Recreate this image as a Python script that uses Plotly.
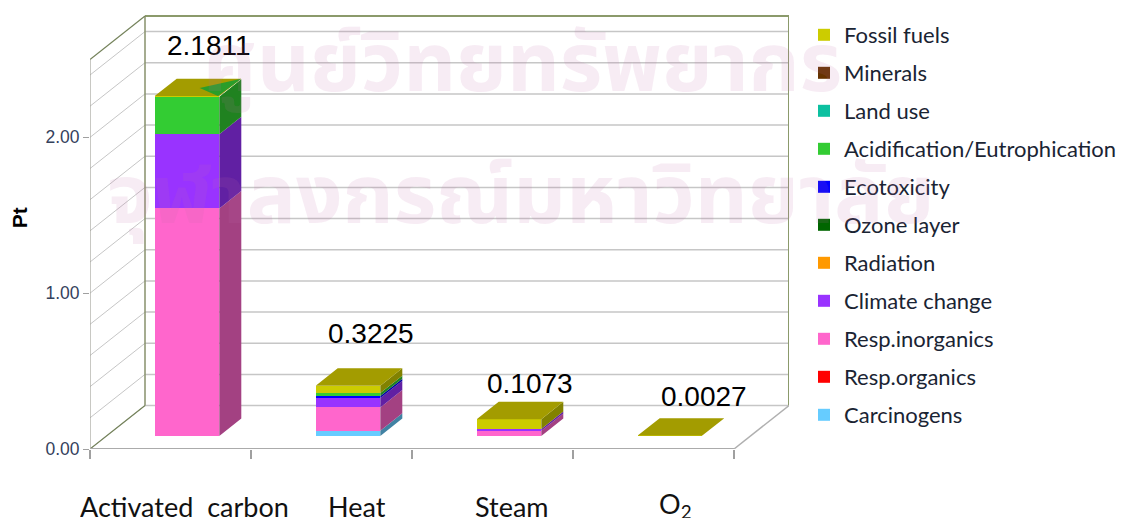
import plotly.graph_objects as go

categories = ["Activated  carbon", "Heat", "Steam", "O<sub>2</sub>"]
totals = [2.1811, 0.3225, 0.1073, 0.0027]
total_labels = ["2.1811", "0.3225", "0.1073", "0.0027"]

carcinogens = [0.0, 0.034, 0.0, 0.0]
resp_organics = [0.0, 0.0, 0.0, 0.0]
resp_inorganics = [1.46, 0.149, 0.033, 0.0]
climate_change = [0.477, 0.06, 0.012, 0.0]
radiation = [0.0, 0.0, 0.0, 0.0]
ozone_layer = [0.0, 0.0, 0.0, 0.0]
ecotoxicity = [0.0, 0.013, 0.0, 0.0]
acidification = [0.24, 0.019, 0.0003, 0.0]
land_use = [0.0, 0.0, 0.0, 0.0]
minerals = [0.0, 0.0, 0.0, 0.0]
fossil_fuels = [0.0041, 0.0475, 0.062, 0.0027]

series = [
    ("Carcinogens", carcinogens, "#66ccff"),
    ("Resp.organics", resp_organics, "#ff0000"),
    ("Resp.inorganics", resp_inorganics, "#ff66cc"),
    ("Climate change", climate_change, "#9933ff"),
    ("Radiation", radiation, "#ff9900"),
    ("Ozone layer", ozone_layer, "#006600"),
    ("Ecotoxicity", ecotoxicity, "#0000ff"),
    ("Acidification/Eutrophication", acidification, "#33cc33"),
    ("Land use", land_use, "#0cc0a0"),
    ("Minerals", minerals, "#663300"),
    ("Fossil fuels", fossil_fuels, "#cccc00"),
]

Y_TICKS = [0, 1, 2]
Y_TICK_TEXT = ["0.00", "1.00", "2.00"]
GRID_VALUES = [0.2 * k for k in range(0, 13)]
Y_MAX = 2.5

# Plot geometry: one x unit per category, depth expressed in axis units
L, R, T, B = 90, 789, 14.5, 449
DX = 55 / 161
DY = 43.5 / 156
XMAX = (R - L) / 161
YMAX = (B - T) / 156
BAR_W = 64.6 / 161
D0, D1 = 0.3, 0.7


def shade(hex_color, k):
    h = hex_color.lstrip("#")
    r, g, b = (int(h[i:i + 2], 16) for i in (0, 2, 4))
    return f"rgb({int(r * k)},{int(g * k)},{int(b * k)})"


fig = go.Figure()
floor = D0 * DY
centers = [i + 0.5 + D0 * DX for i in range(len(categories))]
cum = [0.0] * len(categories)

side_traces = []
for idx, (name, vals, col) in enumerate(series):
    bases = [floor + c for c in cum]
    fig.add_trace(go.Bar(
        x=centers, y=vals, base=bases, width=BAR_W, name=name,
        marker=dict(color=col, line=dict(width=0)), legendgroup=name,
        legendrank=1000 - idx, hoverinfo="skip",
    ))
    xs, ys = [], []
    for i, v in enumerate(vals):
        if v <= 0:
            continue
        xr = centers[i] + BAR_W / 2
        y0, y1 = bases[i], bases[i] + v
        d = D1 - D0
        xs += [xr, xr + d * DX, xr + d * DX, xr, xr, None]
        ys += [y0, y0 + d * DY, y1 + d * DY, y1, y0, None]
    side_traces.append(go.Scatter(
        x=xs, y=ys, mode="lines", fill="toself", line=dict(width=0),
        fillcolor=shade(col, 0.64), showlegend=False, hoverinfo="skip",
    ))
    cum = [c + v for c, v in zip(cum, vals)]
for t in side_traces:
    fig.add_trace(t)

# Top faces carry the colour of the top-most series
tx, ty = [], []
for i, c in enumerate(cum):
    xl, xr = centers[i] - BAR_W / 2, centers[i] + BAR_W / 2
    y = floor + c
    d = D1 - D0
    tx += [xl, xr, xr + d * DX, xl + d * DX, xl, None]
    ty += [y, y, y + d * DY, y + d * DY, y, None]
fig.add_trace(go.Scatter(x=tx, y=ty, mode="lines", fill="toself", line=dict(width=0),
                         fillcolor="#a39c00", showlegend=False, hoverinfo="skip"))

# Green sliver showing through the first bar's top face
d = D1 - D0
xr0 = centers[0] + BAR_W / 2
y0 = floor + cum[0]
fig.add_trace(go.Scatter(
    x=[xr0 + d * DX, xr0 - 0.02 * BAR_W, xr0 - 0.464 * BAR_W + 0.47 * d * DX, xr0 + d * DX],
    y=[y0 + d * DY, y0, y0 + 0.47 * d * DY, y0 + d * DY],
    mode="lines", fill="toself", line=dict(width=0), fillcolor="#2a9d2a",
    showlegend=False, hoverinfo="skip"))

shapes = []
GRID = "#c6c6c6"
for v in GRID_VALUES:
    shapes.append(dict(type="line", layer="below", xref="x", yref="y", x0=DX, x1=4 + DX,
                       y0=v + DY, y1=v + DY, line=dict(color=GRID, width=1.5)))
    shapes.append(dict(type="line", layer="below", xref="x", yref="y", x0=0, x1=DX,
                       y0=v, y1=v + DY, line=dict(color=GRID, width=1)))
OLIVE = "#8b9a6b"
edges = [
    (DX, Y_MAX + DY, 4 + DX, Y_MAX + DY, OLIVE, 2),
    (4 + DX, Y_MAX + DY, 4 + DX, DY, OLIVE, 2),
    (DX, DY, DX, Y_MAX + DY, "#87906b", 1.5),
    (0, Y_MAX, DX, Y_MAX + DY, "#74825a", 1.2),
    (0, 0, 0, Y_MAX, "#a3a39b", 1.2),
    (0, 0, DX, DY, "#74825a", 1.2),
    (0, 0, 4, 0, "#ababab", 2),
    (4, 0, 4 + DX, DY, "#b0b0b0", 1.5),
]
for x0, y0_, x1, y1, c, w in edges:
    shapes.append(dict(type="line", layer="below", xref="x", yref="y", x0=x0, x1=x1,
                       y0=y0_, y1=y1, line=dict(color=c, width=w)))

annotations = []
LABEL_XSHIFT = [22, 23, 21, 34]
LABEL_YSHIFT = [33.5, 34.5, 18, 22]
for i, t in enumerate(total_labels):
    annotations.append(dict(
        x=centers[i], y=floor + totals[i] + d * DY, xref="x", yref="y", text=t,
        showarrow=False, xshift=LABEL_XSHIFT[i], yshift=LABEL_YSHIFT[i],
        xanchor="center", yanchor="middle",
        font=dict(family="Liberation Sans", size=28, color="#000000")))
CAT_XSHIFT = [14, 25, 19, 22]
CAT_YSHIFT = [-57, -57, -57, -56]
for i, t in enumerate(categories):
    annotations.append(dict(
        x=i + 0.5, y=0, xref="x", yref="paper", text=t, showarrow=False, height=26,
        xshift=CAT_XSHIFT[i], yshift=CAT_YSHIFT[i], xanchor="center", yanchor="middle",
        font=dict(family="Lato", size=27, color="#111111")))
annotations.append(dict(
    x=0, y=(B - 218) / (B - T), xref="paper", yref="paper", text="<b>Pt</b>", textangle=-90,
    showarrow=False, xshift=-71, xanchor="center", yanchor="middle",
    font=dict(family="Liberation Sans", size=21, color="#000000")))
WM = "rgba(190,110,170,0.13)"
WM_FONT = dict(size=82, color=WM, weight=700,
               family="Noto Sans Thai, Noto Looped Thai, Loma, Garuda, Waree, Noto Sans, sans-serif")
annotations.append(dict(text="ศูนย์วิทยทรัพยากร", x=(522 - L) / 161, y=(B - 66) / 156, xref="x", yref="y",
                        showarrow=False, font=WM_FONT))
annotations.append(dict(text="จุฬาลงกรณ์มหาวิทยาลัย", x=(520 - L) / 161, y=(B - 198) / 156, xref="x", yref="y",
                        showarrow=False, font=WM_FONT))

fig.update_layout(
    width=1126, height=519, autosize=False,
    margin=dict(l=L, r=1126 - R, t=T, b=519 - B, pad=0),
    paper_bgcolor="white", plot_bgcolor="white",
    barmode="overlay", bargap=0,
    showlegend=True,
    legend=dict(xref="container", yref="container", x=804 / 1126, y=1 - 14 / 519,
                xanchor="left", yanchor="top",
                traceorder="grouped", tracegroupgap=6.4, maxheight=500,
                font=dict(family="Lato", size=22, color="#1a2433"),
                bgcolor="rgba(0,0,0,0)"),
    shapes=shapes, annotations=annotations,
    xaxis=dict(range=[0, XMAX], showgrid=False, zeroline=False, showline=False,
               tickmode="array", tickvals=[0, 1, 2, 3, 4], showticklabels=False,
               ticks="outside", ticklen=9, tickcolor="#a0a0a0", tickwidth=1.5, automargin=False),
    yaxis=dict(range=[0, YMAX], showgrid=False, zeroline=False, showline=False,
               tickmode="array", tickvals=Y_TICKS, ticktext=Y_TICK_TEXT,
               ticks="outside", ticklen=6, tickcolor="#a0a0a0", tickwidth=1, automargin=False,
               tickfont=dict(family="Liberation Sans", size=17.5, color="#34415c")),
)
fig.write_html("out.html", config={"displayModeBar": False},
               post_script="document.body.style.margin='0';")
